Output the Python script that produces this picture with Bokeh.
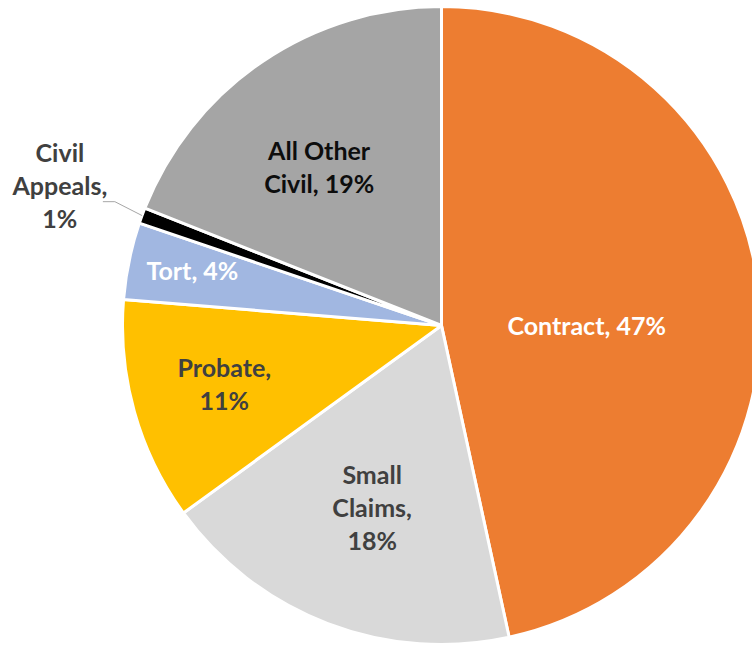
import math
from bokeh.plotting import figure
from bokeh.models import Range1d, ColumnDataSource
from bokeh.core.properties import value
from bokeh.embed import file_html
from bokeh.resources import INLINE

# ---- data ----
categories = ["Contract", "Small Claims", "Probate", "Tort", "Civil Appeals", "All Other Civil"]
shares = [46.6, 18.4, 11.3, 3.9, 0.8, 19.0]
label_texts = ["Contract, 47%", "Small\nClaims,\n18%", "Probate,\n11%", "Tort, 4%",
               "Civil\nAppeals,\n1%", "All Other\nCivil, 19%"]

# ---- styles ----
colors = ["#ED7D31", "#D9D9D9", "#FFC000", "#A1B7E1", "#000000", "#A5A5A5"]
text_colors = ["#FFFFFF", "#404040", "#404040", "#FFFFFF", "#404040", "#0D0D0D"]
label_radius = [0.455, 0.61, 0.705, 0.80, None, 0.63]
label_shift_deg = [6.0, 0.0, 0.6, 0.8, 0.0, -3.3]

W, H = 752, 646
CX, CY, R = 441, H - 325, 319
FONT = "Lato"
FSIZE = "25px"
LH = 1.1

p = figure(width=W, height=H, x_range=Range1d(0, W), y_range=Range1d(0, H),
           output_backend="svg", toolbar_location=None, min_border=0)
p.axis.visible = False
p.grid.visible = False
p.outline_line_color = None
p.background_fill_color = "white"
p.border_fill_color = "white"

total = sum(shares)
starts, ends, mids = [], [], []
c = 0.0
for s in shares:
    a0 = c / total
    c += s
    a1 = c / total
    starts.append(math.pi / 2 - 2 * math.pi * a0)
    ends.append(math.pi / 2 - 2 * math.pi * a1)
    mids.append(2 * math.pi * (a0 + a1) / 2)  # clockwise from top

src = ColumnDataSource(dict(start=starts, end=ends, color=colors, cat=categories))
p.wedge(x=CX, y=CY, radius=R, start_angle="start", end_angle="end", direction="clock",
        fill_color="color", line_color="white", line_width=3, source=src)

def polar(r, theta):
    return CX + r * math.sin(theta), CY + r * math.cos(theta)

lx, ly, lt, lc = [], [], [], []
for i, f in enumerate(label_radius):
    if f is None:
        continue
    x, y = polar(R * f, mids[i] + math.radians(label_shift_deg[i]))
    lx.append(x); ly.append(y); lt.append(label_texts[i]); lc.append(text_colors[i])

p.text(x=lx, y=ly, text=lt, text_color=lc, text_font=value(FONT), text_font_style="bold",
       text_font_size=FSIZE, text_align="center", text_baseline="middle",
       text_line_height=LH)

# outside label with leader line for Civil Appeals
i = categories.index("Civil Appeals")
x0, y0 = polar(R, mids[i])
x1, y1 = polar(R * 1.095, mids[i] + math.radians(0.6))
x2, y2 = x1 - 12, y1
p.line(x=[x0, x1, x2], y=[y0, y1, y2], line_color="#A6A6A6", line_width=1)
p.text(x=[x2 - 43], y=[y2 + 17], text=[label_texts[i]], text_color=text_colors[i],
       text_font=value(FONT), text_font_style="bold", text_font_size=FSIZE,
       text_align="center", text_baseline="middle", text_line_height=LH)

open("out.html", "w").write(file_html(p, INLINE))
